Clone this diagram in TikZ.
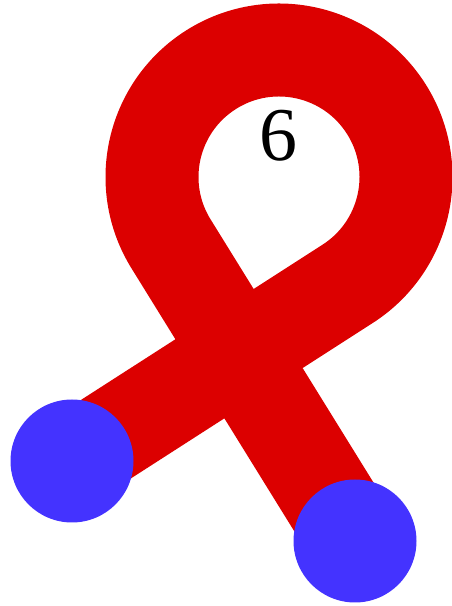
\documentclass[tikz,border=0pt]{standalone}
\usepackage{fontspec}
\newfontfamily\labelfont{Liberation Serif}
\usetikzlibrary{backgrounds,calc}
\definecolor{knotred}{RGB}{220,0,0}
\definecolor{endblue}{RGB}{68,51,255}
\tikzset{
  endpt/.style={circle, fill=endblue, draw=none, minimum size=123pt, inner sep=0pt},
  strand/.style={draw=knotred, line width=93pt, line cap=butt, line join=round},
  numlabel/.style={font=\labelfont\fontsize{76}{84}\selectfont, inner sep=0pt}
}
\begin{document}
\begin{tikzpicture}[x=1pt,y=1pt]
  \useasboundingbox (0,0) rectangle (451,606);
  \coordinate (c) at (279,429);
  \node[endpt] (l) at (72,145) {};
  \node[endpt] (r) at (355,65) {};
  \node[numlabel] (lab) at (278,470) {6};
  \begin{scope}[on background layer]
    \draw[strand] (l.center) -- ($(c)+(-57.3:127)$)
      arc[start angle=-57.3, end angle=211.8, radius=127] -- (r.center);
  \end{scope}
\end{tikzpicture}
\end{document}
